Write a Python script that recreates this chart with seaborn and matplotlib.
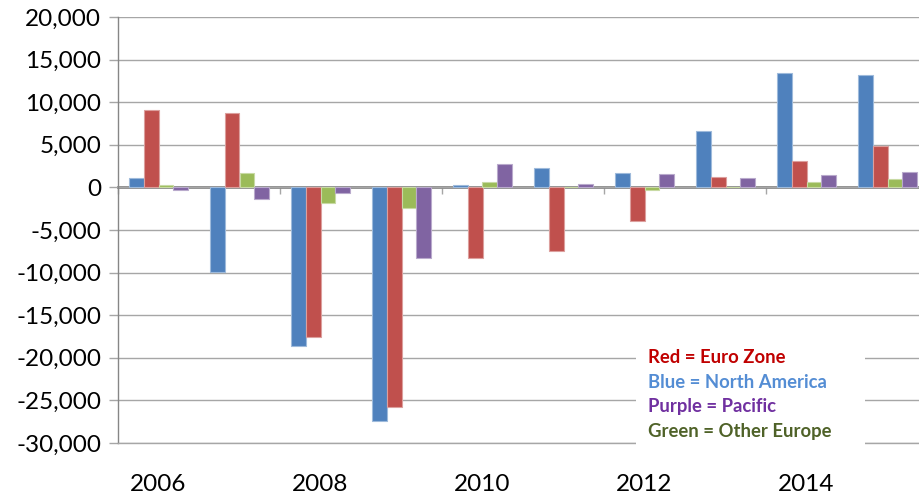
import numpy as np
import pandas as pd
import seaborn as sns
import matplotlib.pyplot as plt
from matplotlib.patches import Rectangle
from matplotlib.ticker import FuncFormatter
from matplotlib.colors import to_rgb

# Annual flows by region
years = [2006, 2007, 2008, 2009, 2010, 2011, 2012, 2013, 2014, 2015]
north_america = [1100, -9900, -18600, -27450, 300, 2300, 1700, 6650, 13450, 13150]
euro_zone = [9100, 8750, -17500, -25800, -8250, -7500, -3950, 1200, 3050, 4850]
other_europe = [250, 1700, -1800, -2400, 650, 0, -350, 0, 650, 1000]
pacific = [-350, -1400, -650, -8250, 2700, 350, 1600, 1050, 1400, 1750]

regions = ["North America", "Euro Zone", "Other Europe", "Pacific"]
bar_colors = ["#4F81BD", "#C0504D", "#9BBB59", "#8064A2"]

legend_lines = ["Red = Euro Zone", "Blue = North America",
                "Purple = Pacific", "Green = Other Europe"]
legend_colors = ["#C00000", "#548DD4", "#7030A0", "#4F6228"]

y_ticks = list(range(-30000, 20001, 5000))

df = pd.DataFrame({
    "year": [str(y) for y in years] * 4,
    "region": np.repeat(regions, len(years)),
    "value": north_america + euro_zone + other_europe + pacific,
})

sns.set_style("white")
plt.rcParams["font.family"] = ["Lato", "DejaVu Sans"]

W, H = 919, 500
fig = plt.figure(figsize=(W / 100, H / 100), dpi=100)
ax = fig.add_axes([118 / W, (H - 443) / H, 810 / W, 426 / H])

sns.barplot(data=df, x="year", y="value", hue="region", hue_order=regions,
            palette=bar_colors, saturation=1, width=0.73, dodge=True,
            legend=False, errorbar=None, ax=ax, zorder=2)

# light rim on each bar
for p in ax.patches:
    fc = np.array(to_rgb(p.get_facecolor()))
    p.set_edgecolor(tuple(fc + (1 - fc) * 0.45))
    p.set_linewidth(0.8)

ymin, ymax = -30000, 20000
ax.set_ylim(ymin, ymax)
ax.set_xlim(-0.5, len(years) - 0.5)
ax.set_yticks(y_ticks)
ax.yaxis.set_major_formatter(FuncFormatter(lambda v, _: f"{int(v):,}"))
ax.set_xlabel("")
ax.set_ylabel("")

grid_c = "#A6A6A6"
axis_c = "#868686"
ax.set_axisbelow(True)
ax.yaxis.grid(True, color=grid_c, linewidth=1.0)
ax.xaxis.grid(False)
for s in ["top", "right"]:
    ax.spines[s].set_visible(False)
ax.spines["left"].set_color(axis_c)
ax.spines["left"].set_linewidth(1.0)
ax.spines["bottom"].set_color(grid_c)
ax.spines["bottom"].set_linewidth(1.0)

ax.tick_params(axis="y", direction="out", length=6.5, width=1.0, color=grid_c,
               pad=5.5, labelsize=17.5, labelcolor="#000000", left=True)
shown = [i for i in range(len(years)) if i % 2 == 0]
ax.set_xticks(shown)
ax.set_xticklabels([str(years[i]) for i in shown])
ax.tick_params(axis="x", length=0, pad=22, labelsize=17.5, labelcolor="#000000")

# zero line with tick marks (pointing down) between every other year
zero_frac = (0 - ymin) / (ymax - ymin)
sec = ax.secondary_xaxis(zero_frac)
sec.set_alignment("bottom")
sec.set_xticks([i - 0.5 for i in range(0, len(years) + 1, 2)])
sec.set_xticklabels([])
sec.tick_params(axis="x", which="both", bottom=True, top=False,
                direction="out", length=5, width=1.0, color=grid_c)
sec.spines["top"].set_visible(False)
sec.spines["bottom"].set_visible(True)
sec.spines["bottom"].set_color(axis_c)
sec.spines["bottom"].set_linewidth(2.0)

# colour key
fig.patches.append(Rectangle((636 / W, (H - 452) / H), 229 / W, 112 / H,
                             transform=fig.transFigure, facecolor="white",
                             edgecolor="none", zorder=10))
ys = [356, 380.5, 405, 429.5]
for txt, c, yp in zip(legend_lines, legend_colors, ys):
    fig.text(648 / W, (H - yp) / H, txt, color=c, fontsize=13.3,
             fontweight="bold", va="center_baseline", ha="left", zorder=11)

fig.savefig("out.png", dpi=100)
